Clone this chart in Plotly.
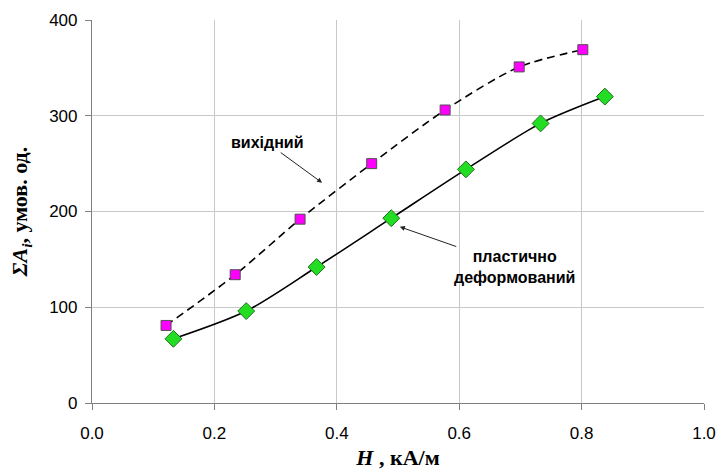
import plotly.graph_objects as go

# Field strength H (kA/m) and summed amplitude ΣAi (arb. units)
h_initial = [0.121, 0.234, 0.340, 0.457, 0.577, 0.698, 0.802]
a_initial = [81, 134, 192, 250, 306, 351, 369]

h_deformed = [0.133, 0.252, 0.367, 0.489, 0.611, 0.733, 0.838]
a_deformed = [67, 96, 142, 193, 244, 292, 320]

x_ticks = [0.0, 0.2, 0.4, 0.6, 0.8, 1.0]
y_ticks = [0, 100, 200, 300, 400]

fig = go.Figure()

fig.add_trace(go.Scatter(
    x=h_initial, y=a_initial, mode="lines+markers",
    line=dict(color="black", width=1.6, dash="8px,5px", shape="spline", smoothing=0.8),
    marker=dict(symbol="square", size=10, color="#ff00ff",
                line=dict(color="#505050", width=1)),
    showlegend=False,
))

fig.add_trace(go.Scatter(
    x=h_deformed, y=a_deformed, mode="lines+markers",
    line=dict(color="black", width=1.6, shape="spline", smoothing=0.8),
    marker=dict(symbol="diamond", size=13, color="#22dd22",
                line=dict(color="#207020", width=1)),
    showlegend=False,
))

label_font = dict(family="Liberation Sans, Arial", size=16, color="black")

# Curve labels; each arrow runs from its label to the curve
fig.add_annotation(x=0.376, y=230, ax=0.286, ay=272, xref="x", yref="y",
                   axref="x", ayref="y", text="<b>вихідний</b>",
                   showarrow=True, arrowhead=2, arrowsize=1, arrowwidth=1,
                   arrowcolor="#222222", font=label_font)

fig.add_annotation(x=0.503, y=184, ax=0.691, ay=142, xref="x", yref="y",
                   axref="x", ayref="y",
                   text="<b>пластично</b><br><b>деформований</b>",
                   showarrow=True, arrowhead=2, arrowsize=1, arrowwidth=1,
                   arrowcolor="#222222", font=label_font, align="center")

tick_font = dict(family="Liberation Sans, Arial", size=17, color="black")
title_font = dict(family="Liberation Serif, Times New Roman", size=22, color="black")

fig.update_xaxes(
    range=[0, 1.0], tickvals=x_ticks, ticktext=[f"{v:.1f}" for v in x_ticks],
    showgrid=True, gridcolor="#c8c8c8", gridwidth=1,
    showline=True, linecolor="#808080", linewidth=1.2,
    ticks="outside", ticklen=6, tickcolor="#808080",
    tickfont=tick_font, zeroline=False, ticklabelstandoff=8, automargin=False,
    title=dict(text="<b><i>H</i> , кА/м</b>", font=title_font, standoff=8),
)
fig.update_yaxes(
    range=[0, 400], tickvals=y_ticks,
    showgrid=True, gridcolor="#c8c8c8", gridwidth=1,
    showline=True, linecolor="#808080", linewidth=1.2,
    ticks="outside", ticklen=6, tickcolor="#808080",
    tickfont=tick_font, zeroline=False, ticklabelstandoff=4, automargin=False,
    title=dict(text="<b><i>ΣA</i><sub><i>i</i></sub>, умов. од.</b>",
               font=title_font, standoff=15),
)

fig.update_layout(
    width=718, height=472,
    margin=dict(l=92, r=14, t=20, b=69),
    paper_bgcolor="white", plot_bgcolor="white",
)

fig.write_html("out.html")
